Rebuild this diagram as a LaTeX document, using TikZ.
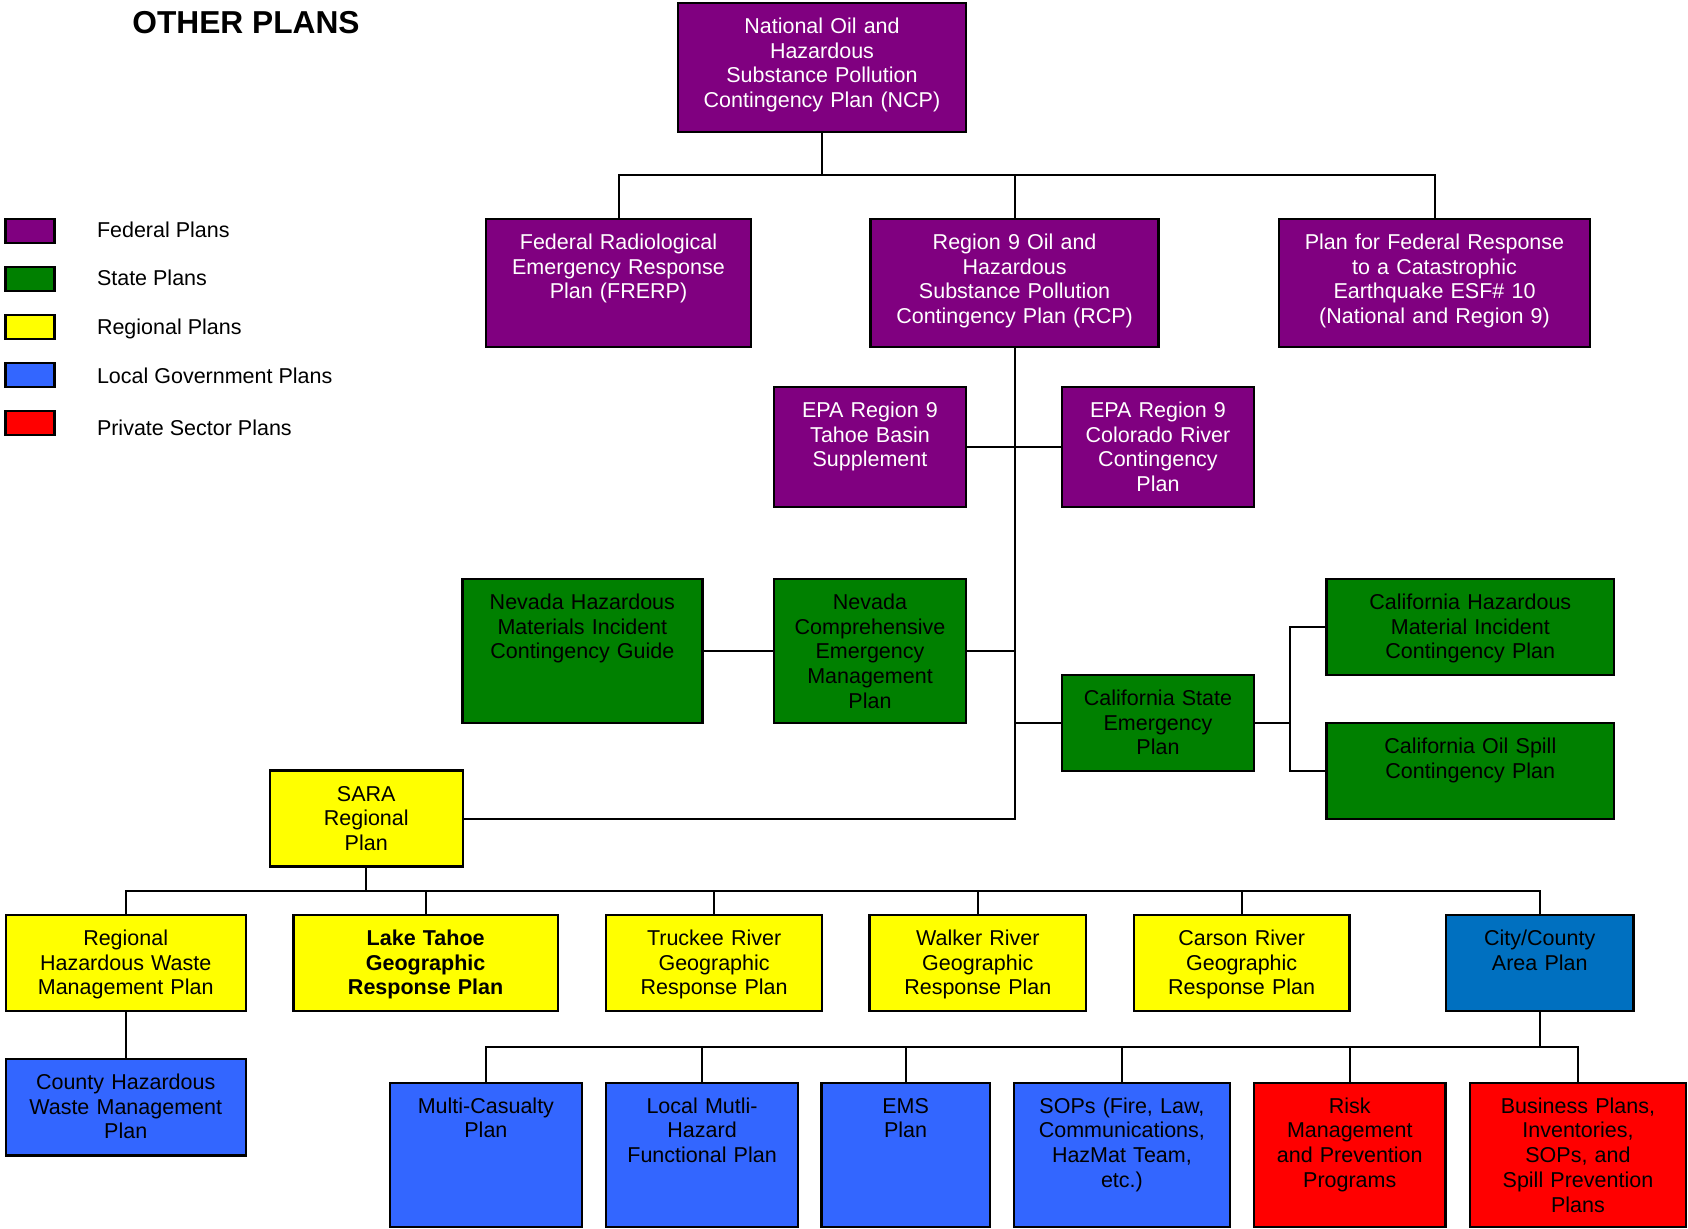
\documentclass[tikz,border=0pt]{standalone}
\usepackage{fontspec}
\setmainfont{Liberation Sans}
\definecolor{fedc}{HTML}{800080}
\definecolor{statec}{HTML}{008000}
\definecolor{regc}{HTML}{FFFF00}
\definecolor{locc}{HTML}{3366FF}
\definecolor{cityc}{HTML}{0070C0}
\definecolor{privc}{HTML}{FF0000}
\tikzset{
  planbox/.style={draw=black, line width=1.2pt, rectangle, inner sep=0pt, outer sep=0pt},
  plantext/.style={font=\fontsize{10.75pt}{12.35pt}\selectfont, align=center, inner sep=0pt, outer sep=0pt},
  conn/.style={draw=black, line width=1pt},
  legtext/.style={font=\fontsize{10.75pt}{12.35pt}\selectfont, inner sep=0pt, outer sep=0pt, anchor=base west},
}
\newcommand\pbox[8]{%
  \pgfmathsetmacro\bw{(#4-#2)*0.5}%
  \pgfmathsetmacro\bh{(#5-#3)*0.5}%
  \node[planbox, fill=#6, minimum width=\bw pt, minimum height=\bh pt, anchor=north west] (#1) at (#2,#3) {};
  \node[plantext, text=#7, text width=\bw pt, anchor=base] (#1t) at ([yshift=-15.25pt]#1.north) {#8};
}
\begin{document}
\begin{tikzpicture}[x=0.5pt,y=-0.5pt]
\useasboundingbox (0,0) rectangle (1688,1229);
% title
\node[font=\bfseries\fontsize{15.85pt}{19pt}\selectfont, inner sep=0pt, anchor=base west] (title) at (132,33.3) {OTHER PLANS};
% legend
\node[planbox, fill=fedc, minimum width=24.5pt, minimum height=12pt, anchor=north west] (leg1) at (5.4,219) {};
\node[planbox, fill=statec, minimum width=24.5pt, minimum height=12pt, anchor=north west] (leg2) at (5.4,267) {};
\node[planbox, fill=regc, minimum width=24.5pt, minimum height=12pt, anchor=north west] (leg3) at (5.4,315) {};
\node[planbox, fill=locc, minimum width=24.5pt, minimum height=12pt, anchor=north west] (leg4) at (5.4,363) {};
\node[planbox, fill=privc, minimum width=24.5pt, minimum height=12pt, anchor=north west] (leg5) at (5.4,411) {};
\node[legtext] (lt1) at (97,237.3) {Federal Plans};
\node[legtext] (lt2) at (97,286) {State Plans};
\node[legtext] (lt3) at (97,335) {Regional Plans};
\node[legtext] (lt4) at (97,384) {Local Government Plans};
\node[legtext] (lt5) at (97,436) {Private Sector Plans};
% federal
\pbox{ncp}{678}{3}{966}{132}{fedc}{white}{National Oil and\\Hazardous\\Substance Pollution\\Contingency Plan (NCP)}
\pbox{frerp}{486}{219}{751}{347}{fedc}{white}{Federal Radiological\\Emergency Response\\Plan (FRERP)}
\pbox{rcp}{870.6}{219}{1158.6}{347}{fedc}{white}{Region 9 Oil and\\Hazardous\\Substance Pollution\\Contingency Plan (RCP)}
\pbox{eq}{1279}{219}{1590}{347}{fedc}{white}{Plan for Federal Response\\to a Catastrophic\\Earthquake ESF\# 10\\(National and Region 9)}
\pbox{tahoe}{774}{387}{966}{507}{fedc}{white}{EPA Region 9\\Tahoe Basin\\Supplement}
\pbox{colo}{1062}{387}{1254}{507}{fedc}{white}{EPA Region 9\\Colorado River\\Contingency\\Plan}
% state
\pbox{nvguide}{462.4}{579}{702.3}{723}{statec}{black}{Nevada Hazardous\\Materials Incident\\Contingency Guide}
\pbox{nvcomp}{774}{579}{966}{723}{statec}{black}{Nevada\\Comprehensive\\Emergency\\Management\\Plan}
\pbox{castate}{1062}{675}{1254}{771}{statec}{black}{California State\\Emergency\\Plan}
\pbox{cahaz}{1326.6}{579}{1614}{675}{statec}{black}{California Hazardous\\Material Incident\\Contingency Plan}
\pbox{caoil}{1326.6}{723}{1614}{819}{statec}{black}{California Oil Spill\\Contingency Plan}
% regional
\pbox{sara}{269.8}{770.7}{462.7}{866.7}{regc}{black}{SARA\\Regional\\Plan}
\pbox{rhw}{5.7}{915}{245.7}{1011}{regc}{black}{Regional\\Hazardous Waste\\Management Plan}
\pbox{laket}{293.3}{915}{558}{1011}{regc}{black}{\bfseries Lake Tahoe\\\bfseries Geographic\\\bfseries Response Plan}
\pbox{truck}{606.2}{915}{822}{1011}{regc}{black}{Truckee River\\Geographic\\Response Plan}
\pbox{walk}{869.6}{915}{1086}{1011}{regc}{black}{Walker River\\Geographic\\Response Plan}
\pbox{cars}{1134}{915}{1349.3}{1011}{regc}{black}{Carson River\\Geographic\\Response Plan}
\pbox{city}{1446}{915}{1633.5}{1011}{cityc}{black}{City/County\\Area Plan}
% local
\pbox{chw}{5.7}{1059}{245.7}{1155.3}{locc}{black}{County Hazardous\\Waste Management\\Plan}
\pbox{mc}{389.8}{1082.7}{582}{1226.7}{locc}{black}{Multi-Casualty\\Plan}
\pbox{lmh}{606.2}{1082.7}{798}{1226.7}{locc}{black}{Local Mutli-\\Hazard\\Functional Plan}
\pbox{ems}{821.5}{1082.7}{989.7}{1226.7}{locc}{black}{EMS\\Plan}
\pbox{sops}{1014}{1082.7}{1229.8}{1226.7}{locc}{black}{SOPs (Fire, Law,\\Communications,\\HazMat Team,\\etc.)}
% private
\pbox{risk}{1254}{1082.7}{1445.5}{1226.7}{privc}{black}{Risk\\Management\\and Prevention\\Programs}
\pbox{bus}{1469.9}{1082.7}{1686}{1226.7}{privc}{black}{Business Plans,\\Inventories,\\SOPs, and\\Spill Prevention\\Plans}
% connectors
\coordinate (bus1) at (ncp.south |- 0,175);
\coordinate (trunk) at (rcp.south);
\coordinate (cj) at (castate.east -| 1290,0);
\coordinate (bus2) at (sara.south |- 0,891);
\coordinate (bus3) at (city.south |- 0,1047);
\begin{scope}[conn]
\draw (ncp.south) -- (bus1);
\draw (frerp.north) |- (bus1) -| (eq.north);
\draw (rcp.north) -- (rcp.north |- bus1);
\draw (rcp.south) |- (sara.east);
\draw (tahoe.east) -- (colo.west);
\draw (nvguide.east) -- (nvcomp.west);
\draw (nvcomp.east) -- (nvcomp.east -| trunk);
\draw (castate.west) -- (castate.west -| trunk);
\draw (castate.east) -- (cj);
\draw (cahaz.west) -| (cj);
\draw (caoil.west) -| (cj);
\draw (sara.south) -- (bus2);
\draw (rhw.north) |- (bus2) -| (city.north);
\draw (laket.north) -- (laket.north |- bus2);
\draw (truck.north) -- (truck.north |- bus2);
\draw (walk.north) -- (walk.north |- bus2);
\draw (cars.north) -- (cars.north |- bus2);
\draw (rhw.south) -- (chw.north);
\draw (city.south) -- (bus3);
\draw (mc.north) |- (bus3) -| (bus.north);
\draw (lmh.north) -- (lmh.north |- bus3);
\draw (ems.north) -- (ems.north |- bus3);
\draw (sops.north) -- (sops.north |- bus3);
\draw (risk.north) -- (risk.north |- bus3);
\end{scope}
\end{tikzpicture}
\end{document}
